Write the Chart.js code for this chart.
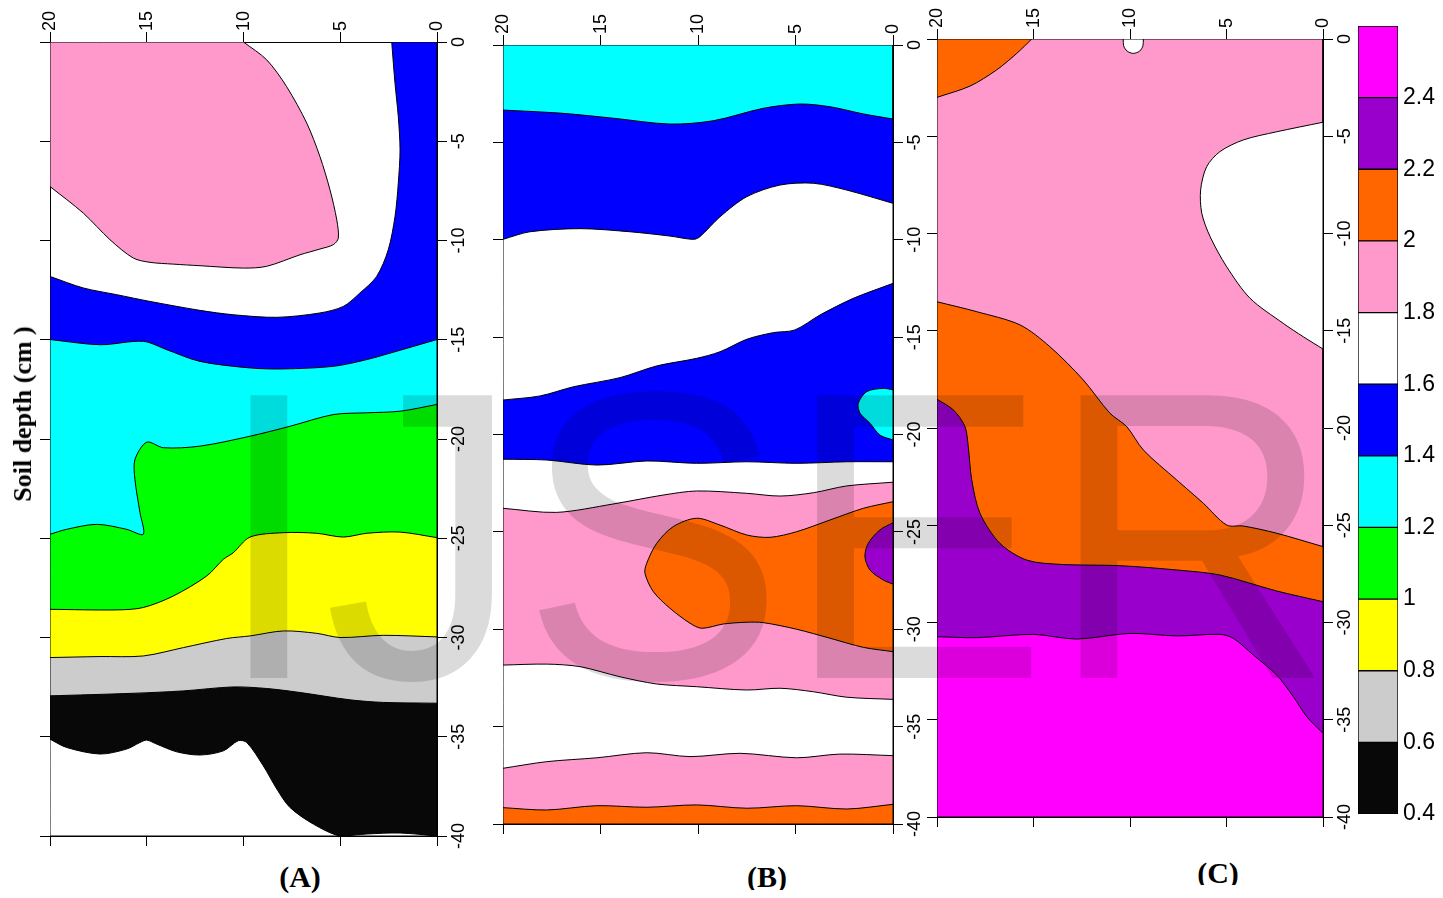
<!DOCTYPE html>
<html>
<head>
<meta charset="utf-8">
<script src="https://cdn.jsdelivr.net/npm/chart.js@4.4.0/dist/chart.umd.min.js"></script>
<style>
  body { margin: 0; background: #fff; width: 1443px; height: 898px; overflow: hidden; position: relative; }
  canvas { position: absolute; top: 0; }
  .serif { position: absolute; font-family: "Liberation Serif", "Times New Roman", serif; font-weight: bold; color: #000; white-space: nowrap; }
  .cap { font-size: 30px; line-height: 30px; text-align: center; width: 100px; overflow: hidden; }
  #ylabel { font-size: 26px; line-height: 26px; left: 23px; top: 414px; transform: translate(-50%, -50%) rotate(-90deg); }
  #mark { position: absolute; left: 214px; top: 344px; font: 395px/395px "Liberation Sans", Arial, sans-serif;
          color: rgba(0, 0, 0, 0.14); pointer-events: none; white-space: nowrap;
          transform-origin: 0 334px; transform: scaleY(1.04); }
</style>
</head>
<body>
<canvas id="chartA" width="480" height="860" style="left:0px"></canvas>
<canvas id="chartB" width="470" height="850" style="left:455px"></canvas>
<canvas id="chartC" width="460" height="845" style="left:900px"></canvas>
<canvas id="scaleBar" width="103" height="860" style="left:1340px"></canvas>

<div id="ylabel" class="serif">Soil depth (cm )</div>
<div class="serif cap" style="left:250px; top:862px; height:32px">(A)</div>
<div class="serif cap" style="left:717px; top:862px; height:28px">(B)</div>
<div class="serif cap" style="left:1168px; top:858px; height:27px">(C)</div>
<div id="mark">IJSER</div>

<script>
// colour classes of the contour map (bottom -> top of the scale bar)
const scaleEdges = [0.4, 0.6, 0.8, 1, 1.2, 1.4, 1.6, 1.8, 2, 2.2, 2.4, 2.6];
const scaleTicks = [0.4, 0.6, 0.8, 1, 1.2, 1.4, 1.6, 1.8, 2, 2.2, 2.4];
const scaleColors = ['#080808', '#cccccc', '#ffff00', '#00ff00', '#00ffff', '#0000ff',
                     '#ffffff', '#ff99cc', '#ff6600', '#9900cc', '#ff00ff'];
const [BLACK, GRAY, YELLOW, GREEN, CYAN, BLUE, WHITE, PINK, ORANGE, PURPLE, MAGENTA] = scaleColors;

// (A) contour lines, [distance, depth]
const aPinkBlob = [[10,0],[8.8,-0.9],[7.77,-2.25],[6.73,-4.09],[6.05,-5.77],[5.53,-7.45],[5.18,-8.96],[5.1,-9.88],
  [5.36,-10.21],[6.05,-10.43],[7.08,-10.72],[8.8,-11.3],[10,-11.39],[12.25,-11.27],[13.63,-11.19],[14.83,-11.1],
  [15.7,-10.88],[16.9,-9.96],[18.28,-8.62],[20,-7.28]];
const aBlueTop = [[20,-11.81],[18.28,-12.39],[16.55,-12.73],[14.83,-13.07],[12.25,-13.52],[10.53,-13.74],[8.28,-13.87],
  [6.05,-13.65],[4.84,-13.32],[3.98,-12.64],[3.12,-11.81],[2.52,-10.47],[2.17,-8.79],[2.0,-7.11],[1.91,-5.43],
  [2.0,-3.76],[2.17,-2.08],[2.34,0]];
const aCyanTop = [[20,-14.99],[17.42,-15.25],[15.18,-15.08],[13.97,-15.5],[12.25,-16.09],[9.66,-16.42],[7.94,-16.47],
  [5.36,-16.34],[3.63,-16.0],[1.91,-15.53],[0,-14.99]];
const aGreenTop = [[20,-24.8],[19.14,-24.55],[17.59,-24.3],[16.04,-24.55],[15.18,-24.8],[15.35,-23.71],[15.61,-22.04],
  [15.61,-21.03],[15.0,-20.16],[14.14,-20.44],[12.25,-20.36],[9.66,-19.86],[7.6,-19.36],[5.36,-18.77],[3.63,-18.68],
  [1.91,-18.6],[0,-18.26]];
const aYellowTop = [[20,-28.58],[16.55,-28.61],[15.18,-28.49],[13.63,-27.91],[11.9,-26.9],[11.04,-26.06],[10.53,-25.73],
  [9.66,-24.94],[7.94,-24.72],[6.22,-24.75],[4.84,-24.94],[3.63,-24.75],[1.91,-24.69],[0,-24.97]];
const aGrayTop = [[20,-31.01],[17.42,-30.96],[15.18,-30.93],[13.11,-30.51],[10.87,-30.05],[9.66,-29.92],[7.94,-29.67],
  [6.22,-29.79],[5.01,-30.0],[2.78,-29.89],[0,-29.97]];
const aBlackTop = [[20,-32.94],[15.7,-32.81],[13.11,-32.69],[10.53,-32.49],[8.8,-32.57],[7.08,-32.77],[4.5,-33.14],
  [2.78,-33.27],[0,-33.31]];
const aWhiteBottomTop = [[20,-35.12],[19.14,-35.54],[17.42,-35.87],[16.04,-35.62],[15.35,-35.29],[15.0,-35.17],
  [14.49,-35.37],[13.45,-35.76],[12.25,-35.92],[11.04,-35.71],[10.27,-35.2],[9.83,-35.29],[8.98,-36.46],[8.28,-37.63],
  [7.6,-38.56],[6.39,-39.4],[5.01,-40],[3.63,-39.9],[1.91,-39.85],[0,-40]];

// (B)
const bBlue1Top = [[20,-3.34],[16.92,-3.51],[14.34,-3.76],[11.44,-4.06],[9.22,-3.89],[6.65,-3.25],[4.77,-3.03],
  [3.23,-3.17],[1.52,-3.54],[0,-3.8]];
const bWhite1Top = [[20,-9.98],[18.62,-9.59],[16.05,-9.43],[13.49,-9.59],[11.44,-9.81],[10.24,-9.98],[9.9,-9.84],
  [8.87,-8.82],[7.5,-7.79],[5.79,-7.19],[4.08,-7.1],[2.37,-7.45],[0,-8.13]];
const bBlue2Top = [[20,-18.23],[18.1,-18.02],[16.39,-17.55],[14.0,-17.08],[12.12,-16.48],[10.07,-16.09],[8.87,-15.75],
  [7.5,-15.11],[6.14,-14.77],[5.03,-14.63],[3.74,-13.86],[2.04,-13.01],[0,-12.24]];
const bWhite2Top = [[20,-21.27],[17.76,-21.31],[15.19,-21.57],[12.63,-21.36],[10.07,-21.48],[7.5,-21.4],[4.94,-21.48],
  [2.37,-21.4],[0,-21.4]];
const bPink1Top = [[20,-23.79],[17.26,-24.0],[14.36,-23.57],[11.79,-23.11],[10.07,-22.9],[7.5,-23.02],[5.79,-23.16],
  [4.08,-22.99],[2.37,-22.64],[0,-22.45]];
const bWhite3Top = [[20,-31.84],[17.76,-31.79],[16.05,-31.92],[14.0,-32.44],[12.12,-32.81],[10.07,-32.95],[7.5,-33.12],
  [5.79,-33.03],[4.08,-33.21],[2.37,-33.49],[0,-33.6]];
const bPink2Top = [[20,-37.14],[17.76,-36.8],[15.19,-36.6],[12.63,-36.34],[10.41,-36.54],[7.84,-36.37],[4.94,-36.6],
  [2.73,-36.41],[0,-36.49]];
const bOrangeTop = [[20,-39.16],[17.76,-39.28],[15.19,-39.06],[12.63,-39.14],[10.07,-39.02],[7.5,-39.19],[4.94,-39.06],
  [2.37,-39.23],[0,-38.99]];
const bCyanBlob = [[0,-17.71],[0.5,-17.63],[1.35,-17.8],[1.78,-18.4],[1.69,-18.91],[1.18,-19.42],[0.67,-20.03],[0,-20.28]];
const bOrangeBlob = [[0,-23.45],[1.52,-23.79],[3.23,-24.39],[4.94,-24.99],[6.31,-25.28],[7.5,-25.16],[8.87,-24.65],
  [10.07,-24.3],[11.27,-24.73],[12.12,-25.59],[12.63,-26.61],[12.72,-27.13],[12.29,-28.07],[11.44,-28.92],[10.41,-29.69],
  [9.81,-29.95],[8.7,-29.73],[7.5,-29.64],[6.65,-29.66],[4.94,-30.0],[3.23,-30.46],[1.52,-30.93],[0,-31.15]];
const bPurpleBlob = [[0,-24.53],[0.67,-24.9],[1.27,-25.59],[1.44,-26.27],[1.18,-26.96],[0.5,-27.47],[0,-27.68]];

// (C)
const cOrangeCorner = [[15.09,0],[15.87,-0.74],[16.91,-1.59],[18.29,-2.42],[20,-3.0]];
const cWhiteCap = [[10.35,0],[10.33,-0.35],[10.15,-0.62],[9.83,-0.74],[9.5,-0.62],[9.33,-0.35],[9.31,0]];
const cWhiteBlob = [[0,-4.28],[2.4,-4.77],[4.13,-5.19],[5.34,-5.79],[6.03,-6.57],[6.34,-7.76],[6.28,-8.96],
  [5.85,-10.16],[4.99,-11.71],[3.78,-13.33],[2.06,-14.62],[1.02,-15.31],[0,-15.94]];
const cOrangeTop = [[20,-13.51],[17.94,-14.02],[15.7,-14.7],[14.15,-15.82],[12.42,-17.53],[11.04,-19.24],[10.17,-19.93],
  [9.31,-21.13],[7.58,-22.67],[6.2,-23.87],[4.99,-24.99],[4.13,-25.04],[2.4,-25.41],[0,-26.1]];
const cPurpleTop = [[20,-18.52],[19.15,-19.07],[18.55,-19.93],[18.38,-20.96],[18.2,-22.67],[17.77,-24.39],[16.74,-25.93],
  [15.35,-26.79],[13.63,-27.01],[10.52,-27.08],[7.58,-27.3],[5.34,-27.56],[2.4,-28.38],[0,-28.93]];
const cMagentaTop = [[20,-30.73],[17.94,-30.78],[15.01,-30.61],[12.76,-30.85],[10.0,-30.56],[7.58,-30.69],[5.34,-30.61],
  [4.65,-30.81],[3.61,-31.67],[2.4,-32.7],[1.54,-33.81],[0.84,-34.84],[0,-35.7]];

// frame corners of every panel
const TL = [20, 0], TR = [0, 0], BR = [0, -40], BL = [20, -40];

// a filled shape: contour edge, then along the frame back to its start.
// corner points are doubled so the spline keeps them sharp
function region(edge, corners, color, tension = 0.3) {
  const pts = edge.slice();
  pts.push(edge[edge.length - 1]);
  corners.forEach(c => pts.push(c, c));
  pts.push(edge[0], edge[0]);
  return { pts, color, tension };
}
const whole = color => region([TL], [TR, BR, BL], color, 0);

// painter order: first drawn first
const panelA = [
  region(aBlueTop, [TR, BR, BL], BLUE),
  region(aCyanTop, [BR, BL], CYAN),
  region(aGreenTop, [BR, BL], GREEN),
  region(aYellowTop, [BR, BL], YELLOW),
  region(aGrayTop, [BR, BL], GRAY),
  region(aBlackTop, [BR, BL], BLACK),
  region(aWhiteBottomTop, [BL], WHITE),
  region(aPinkBlob, [TL], PINK)
];
const panelB = [
  whole(CYAN),
  region(bBlue1Top, [BR, BL], BLUE),
  region(bWhite1Top, [BR, BL], WHITE),
  region(bBlue2Top, [BR, BL], BLUE),
  region(bWhite2Top, [BR, BL], WHITE),
  region(bPink1Top, [BR, BL], PINK),
  region(bWhite3Top, [BR, BL], WHITE),
  region(bPink2Top, [BR, BL], PINK),
  region(bOrangeTop, [BR, BL], ORANGE),
  region(bCyanBlob, [], CYAN),
  region(bOrangeBlob, [], ORANGE),
  region(bPurpleBlob, [], PURPLE)
];
const panelC = [
  whole(PINK),
  region(cOrangeCorner, [TL], ORANGE),
  region(cWhiteCap, [], WHITE),
  region(cWhiteBlob, [], WHITE),
  region(cOrangeTop, [BR, BL], ORANGE),
  region(cPurpleTop, [BR, BL], PURPLE),
  region(cMagentaTop, [BR, BL], MAGENTA)
];

Chart.defaults.font.family = "'Liberation Sans', Arial, sans-serif";
Chart.defaults.color = '#000';

function buildPanel(id, regions, box) {
  const canvas = document.getElementById(id);
  const W = canvas.width, H = canvas.height;
  const tickFont = { size: 18 };
  const grid = { display: true, drawOnChartArea: false, drawTicks: true, tickLength: 10, color: '#000', lineWidth: 1 };
  const border = { display: true, color: '#000', width: 1 };
  return new Chart(canvas, {
    type: 'scatter',
    data: {
      datasets: regions.map((r, i) => ({
        data: r.pts.map(p => ({ x: p[0], y: p[1] })),
        showLine: true,
        fill: 'shape',
        backgroundColor: r.color,
        borderColor: '#000',
        borderWidth: 1,
        tension: r.tension,
        pointRadius: 0,
        pointHoverRadius: 0,
        pointHitRadius: 0,
        order: regions.length - i
      }))
    },
    options: {
      responsive: false,
      animation: false,
      events: [],
      layout: { padding: 0 },
      plugins: { legend: { display: false }, tooltip: { enabled: false } },
      scales: {
        x: {
          type: 'linear', position: 'top', reverse: true, min: 0, max: 20,
          ticks: { stepSize: 5, minRotation: 90, maxRotation: 90, padding: 1, labelOffset: 22, font: tickFont },
          grid, border,
          afterFit: s => { s.height = box.top; }
        },
        xb: {
          type: 'linear', position: 'bottom', reverse: true, min: 0, max: 20,
          ticks: { stepSize: 5, display: false },
          grid, border,
          afterFit: s => { s.height = H - box.bottom; }
        },
        y: {
          type: 'linear', position: 'right', min: -40, max: 0,
          ticks: { stepSize: 5, minRotation: 90, maxRotation: 90, crossAlign: 'center', padding: -1, font: tickFont },
          grid, border,
          afterFit: s => { s.width = W - box.right; }
        },
        yl: {
          type: 'linear', position: 'left', min: -40, max: 0,
          ticks: { stepSize: 5, display: false },
          grid, border,
          afterFit: s => { s.width = box.left; }
        }
      }
    }
  });
}

buildPanel('chartA', panelA, { left: 50, top: 42, right: 437, bottom: 836 });
buildPanel('chartB', panelB, { left: 48, top: 45, right: 438, bottom: 824 });
buildPanel('chartC', panelC, { left: 37, top: 39, right: 423, bottom: 817 });

// colour scale
new Chart(document.getElementById('scaleBar'), {
  type: 'bar',
  data: {
    labels: ['scale'],
    datasets: scaleColors.map((c, i) => ({
      data: [[scaleEdges[i], scaleEdges[i + 1]]],
      backgroundColor: c,
      borderColor: '#000',
      borderWidth: 1,
      borderSkipped: false,
      grouped: false,
      barPercentage: 1,
      categoryPercentage: 1
    }))
  },
  options: {
    responsive: false,
    animation: false,
    events: [],
    layout: { padding: { left: 18, top: 26, bottom: 46 } },
    plugins: { legend: { display: false }, tooltip: { enabled: false } },
    scales: {
      x: { display: false },
      y: {
        position: 'right', min: 0.4, max: 2.6,
        grid: { display: false, drawTicks: false },
        border: { display: false },
        ticks: { padding: 5, font: { size: 23 }, callback: v => String(Math.round(v * 10) / 10) },
        afterBuildTicks: s => { s.ticks = scaleTicks.map(v => ({ value: v })); },
        afterFit: s => { s.width = 45; }
      }
    }
  }
});
</script>
</body>
</html>
